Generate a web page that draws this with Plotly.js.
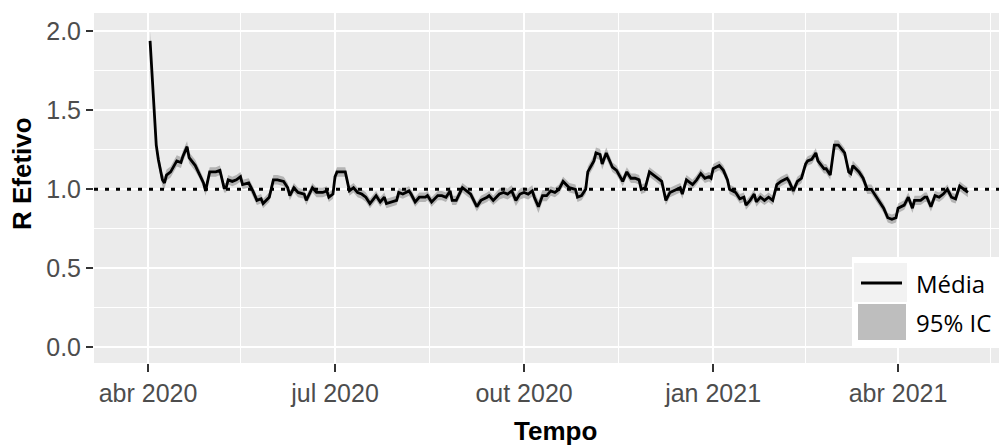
<!DOCTYPE html>
<html>
<head>
<meta charset="utf-8">
<script src="https://cdn.plot.ly/plotly-3.0.1.min.js"></script>
<style>
  html, body { margin: 0; padding: 0; background: #ffffff; }
  #chart { width: 999px; height: 446px; }
</style>
</head>
<body>
<div id="chart"></div>
<script>
// Effective reproduction number (R) over time: mean estimate and 95% interval.
const dates = [
  '2020-04-02','2020-04-03','2020-04-04','2020-04-05','2020-04-06','2020-04-07','2020-04-08','2020-04-09','2020-04-10','2020-04-12','2020-04-15','2020-04-17','2020-04-18','2020-04-20','2020-04-21','2020-04-24','2020-04-26','2020-04-28','2020-04-29',
  '2020-05-01','2020-05-04','2020-05-06','2020-05-08','2020-05-09','2020-05-10','2020-05-12','2020-05-14','2020-05-16','2020-05-17','2020-05-20','2020-05-22','2020-05-24','2020-05-26','2020-05-27','2020-05-30',
  '2020-06-01','2020-06-03','2020-06-06','2020-06-08','2020-06-09','2020-06-11','2020-06-13','2020-06-16','2020-06-17','2020-06-20','2020-06-22','2020-06-25','2020-06-27','2020-06-28','2020-06-30',
  '2020-07-01','2020-07-02','2020-07-06','2020-07-08','2020-07-10','2020-07-12','2020-07-14','2020-07-16','2020-07-18','2020-07-21','2020-07-23','2020-07-25','2020-07-26','2020-07-29','2020-07-31',
  '2020-08-01','2020-08-03','2020-08-06','2020-08-07','2020-08-09','2020-08-11','2020-08-14','2020-08-15','2020-08-17','2020-08-20','2020-08-22','2020-08-24','2020-08-26','2020-08-27','2020-08-29',
  '2020-09-01','2020-09-03','2020-09-05','2020-09-08','2020-09-10','2020-09-13','2020-09-14','2020-09-16','2020-09-19','2020-09-21','2020-09-23','2020-09-25','2020-09-27','2020-09-29',
  '2020-10-01','2020-10-03','2020-10-05','2020-10-06','2020-10-08','2020-10-10','2020-10-12','2020-10-14','2020-10-16','2020-10-18','2020-10-20','2020-10-23','2020-10-26','2020-10-27','2020-10-29','2020-10-31',
  '2020-11-01','2020-11-04','2020-11-05','2020-11-07','2020-11-08','2020-11-10','2020-11-12','2020-11-13','2020-11-15','2020-11-18','2020-11-20','2020-11-22','2020-11-24','2020-11-26','2020-11-27','2020-11-29',
  '2020-12-01','2020-12-03','2020-12-05','2020-12-07','2020-12-08','2020-12-09','2020-12-11','2020-12-13','2020-12-16','2020-12-17','2020-12-19','2020-12-22','2020-12-24','2020-12-26','2020-12-28','2020-12-30','2020-12-31',
  '2021-01-01','2021-01-04','2021-01-06','2021-01-08','2021-01-09','2021-01-12','2021-01-14','2021-01-16','2021-01-17','2021-01-19','2021-01-21','2021-01-22','2021-01-24','2021-01-26','2021-01-28','2021-01-30',
  '2021-02-01','2021-02-03','2021-02-06','2021-02-07','2021-02-09','2021-02-11','2021-02-13','2021-02-15','2021-02-16','2021-02-18','2021-02-20','2021-02-21','2021-02-24','2021-02-25','2021-02-27','2021-02-28',
  '2021-03-01','2021-03-03','2021-03-05','2021-03-06','2021-03-08','2021-03-09','2021-03-10','2021-03-13','2021-03-15','2021-03-17','2021-03-19','2021-03-21','2021-03-23','2021-03-25','2021-03-27','2021-03-29','2021-03-31',
  '2021-04-01','2021-04-04','2021-04-06','2021-04-08','2021-04-09','2021-04-12','2021-04-14','2021-04-15','2021-04-17','2021-04-19','2021-04-21','2021-04-23','2021-04-25','2021-04-27','2021-04-29',
  '2021-05-01','2021-05-03','2021-05-05'
];

const rMean = [
  1.94,1.70,1.45,1.28,1.19,1.13,1.06,1.04,1.09,1.11,1.18,1.17,1.21,1.27,1.20,1.15,1.10,1.04,0.99,
  1.11,1.11,1.12,1.01,1.01,1.06,1.05,1.06,1.08,1.03,1.04,0.99,0.93,0.94,0.91,0.95,
  1.06,1.06,1.05,1.01,0.96,1.01,0.98,0.97,0.93,1.01,0.98,0.98,0.99,0.95,0.97,
  1.08,1.11,1.11,0.99,1.01,0.98,0.97,0.95,0.91,0.96,0.92,0.95,0.91,0.92,0.93,
  0.98,0.97,0.99,0.97,0.92,0.95,0.95,0.96,0.92,0.96,0.96,0.95,0.99,0.93,0.93,
  1.01,0.99,0.97,0.89,0.93,0.95,0.96,0.93,0.97,0.98,0.97,0.99,0.93,0.97,
  0.98,0.97,0.99,0.95,0.89,0.96,0.96,0.99,0.98,1.00,1.05,1.01,1.00,0.95,0.96,1.00,
  1.11,1.18,1.23,1.22,1.16,1.23,1.17,1.14,1.12,1.05,1.11,1.07,1.07,1.06,1.00,1.01,
  1.11,1.09,1.07,1.05,0.99,0.93,0.98,0.99,1.01,0.97,1.06,1.03,1.06,1.10,1.07,1.08,1.07,
  1.13,1.15,1.12,1.06,1.00,0.98,0.94,0.95,0.90,0.93,0.97,0.92,0.95,0.93,0.95,0.93,
  1.03,1.05,1.07,1.05,0.99,1.05,1.07,1.16,1.18,1.19,1.23,1.18,1.13,1.13,1.09,1.19,
  1.28,1.28,1.25,1.23,1.11,1.10,1.15,1.11,1.07,1.00,1.00,0.96,0.92,0.88,0.82,0.81,0.82,
  0.88,0.90,0.95,0.88,0.93,0.93,0.95,0.95,0.89,0.96,0.95,0.97,1.00,0.95,0.94,
  1.02,1.00,0.98
];

// Half-width of the 95% interval at each date.
const ciHalf = [
  0.06,0.05,0.05,0.04,0.04,0.04,0.04,0.04,0.035,0.035,0.035,0.035,0.035,0.035,0.035,0.035,0.03,0.03,0.03,
  0.03,0.03,0.03,0.03,0.03,0.03,0.03,0.03,0.03,0.03,0.03,0.03,0.03,0.03,0.03,0.03,
  0.03,0.03,0.03,0.03,0.03,0.03,0.03,0.03,0.03,0.03,0.03,0.03,0.03,0.03,0.03,
  0.03,0.03,0.03,0.03,0.03,0.03,0.03,0.03,0.03,0.03,0.03,0.03,0.03,0.03,0.03,
  0.03,0.03,0.03,0.03,0.03,0.03,0.03,0.03,0.03,0.03,0.03,0.03,0.03,0.03,0.03,
  0.03,0.03,0.03,0.03,0.03,0.03,0.03,0.03,0.035,0.035,0.035,0.035,0.035,0.035,
  0.035,0.035,0.035,0.035,0.04,0.035,0.035,0.03,0.03,0.03,0.03,0.03,0.03,0.03,0.03,0.03,
  0.035,0.035,0.035,0.035,0.035,0.035,0.035,0.03,0.03,0.03,0.03,0.03,0.03,0.03,0.03,0.03,
  0.03,0.03,0.03,0.03,0.03,0.03,0.03,0.03,0.03,0.03,0.03,0.03,0.03,0.03,0.03,0.03,0.03,
  0.03,0.03,0.03,0.03,0.03,0.03,0.03,0.03,0.03,0.03,0.03,0.03,0.03,0.03,0.03,0.03,
  0.03,0.03,0.03,0.03,0.03,0.03,0.03,0.03,0.03,0.03,0.03,0.03,0.03,0.03,0.03,0.03,
  0.03,0.03,0.03,0.03,0.03,0.03,0.03,0.03,0.03,0.03,0.03,0.03,0.03,0.03,0.03,0.03,0.03,
  0.03,0.03,0.03,0.03,0.03,0.03,0.03,0.03,0.03,0.03,0.03,0.03,0.03,0.03,0.03,
  0.03,0.03,0.03
];

const refLevel = 1.0;

const xTickVals  = ['2020-04-01','2020-07-01','2020-10-01','2021-01-01','2021-04-01'];
const xTickText  = ['abr 2020','jul 2020','out 2020','jan 2021','abr 2021'];
const xMinorVals = ['2020-05-16','2020-08-16','2020-11-16','2021-02-15','2021-05-16'];
const yTickVals  = [0, 0.5, 1, 1.5, 2];
const yTickText  = ['0.0','0.5','1.0','1.5','2.0'];
const yMinorVals = [0.25, 0.75, 1.25, 1.75];

const legendLabels = ['Média', '95% IC'];

const ciLower = rMean.map((v, i) => v - ciHalf[i]);
const ciUpper = rMean.map((v, i) => v + ciHalf[i]);

// Plot area in pixels (used to place legend and titles)
const W = 999, H = 446;
const M = {l: 94, r: 0, t: 13, b: 83};
const PW = W - M.l - M.r, PH = H - M.t - M.b;
const px = x => (x - M.l) / PW;
const py = y => (H - M.b - y) / PH;

const traces = [
  { x: dates, y: ciLower, type: 'scatter', mode: 'lines',
    line: {width: 0, color: 'rgba(0,0,0,0)'}, hoverinfo: 'skip', showlegend: false },
  { x: dates, y: ciUpper, type: 'scatter', mode: 'lines', fill: 'tonexty',
    fillcolor: 'rgba(125,125,125,0.5)', line: {width: 0, color: 'rgba(0,0,0,0)'},
    name: legendLabels[1], showlegend: false },
  { x: dates, y: rMean, type: 'scatter', mode: 'lines',
    line: {color: '#000000', width: 2.8}, name: legendLabels[0], showlegend: false }
];

const tickFont = {family: 'Liberation Sans, Arial, sans-serif', size: 25, color: '#4d4d4d'};
const titleFont = {family: 'Liberation Sans, Arial, sans-serif', size: 26, color: '#000000'};
const legendFont = {family: 'Open Sans, sans-serif', size: 24, color: '#000000'};

const layout = {
  width: W, height: H,
  margin: M,
  paper_bgcolor: '#ffffff',
  plot_bgcolor: '#ebebeb',
  showlegend: false,
  xaxis: {
    type: 'date',
    range: ['2020-03-05 17:00', '2021-05-20 03:00'],
    tickmode: 'array', tickvals: xTickVals, ticktext: xTickText,
    ticks: 'outside', ticklen: 8, tickwidth: 2, tickcolor: '#333333',
    tickfont: tickFont,
    showgrid: true, gridcolor: '#ffffff', gridwidth: 2.3,
    minor: {tickmode: 'array', tickvals: xMinorVals, showgrid: true, gridcolor: '#ffffff', gridwidth: 1.1, ticks: ''},
    zeroline: false, showline: false, fixedrange: true
  },
  yaxis: {
    range: [-0.0994, 2.116],
    tickmode: 'array', tickvals: yTickVals, ticktext: yTickText,
    ticks: 'outside', ticklen: 7, tickwidth: 2, tickcolor: '#333333',
    tickfont: tickFont,
    showgrid: true, gridcolor: '#ffffff', gridwidth: 2.3,
    minor: {tickmode: 'array', tickvals: yMinorVals, showgrid: true, gridcolor: '#ffffff', gridwidth: 1.1, ticks: ''},
    zeroline: false, showline: false, fixedrange: true
  },
  shapes: [
    // reference line at R = 1 (dotted), drawn over the grid
    { type: 'line', xref: 'paper', yref: 'y', x0: 0, x1: 1, y0: refLevel, y1: refLevel,
      line: {color: '#000000', width: 3, dash: '4px,7px'}, layer: 'above' },
    // legend box and keys
    { type: 'rect', xref: 'paper', yref: 'paper', x0: px(852), x1: px(1005), y0: py(347), y1: py(257),
      fillcolor: '#ffffff', line: {width: 0}, layer: 'above' },
    { type: 'rect', xref: 'paper', yref: 'paper', x0: px(854), x1: px(907), y0: py(302), y1: py(263),
      fillcolor: '#f2f2f2', line: {width: 0}, layer: 'above' },
    { type: 'line', xref: 'paper', yref: 'paper', x0: px(861), x1: px(902), y0: py(283), y1: py(283),
      line: {color: '#000000', width: 2.8}, layer: 'above' },
    { type: 'rect', xref: 'paper', yref: 'paper', x0: px(858), x1: px(906), y0: py(340), y1: py(304),
      fillcolor: '#bebebe', line: {width: 0}, layer: 'above' }
  ],
  annotations: [
    { text: '<b>R Efetivo</b>', xref: 'paper', yref: 'paper', x: px(22), y: py(174),
      xanchor: 'center', yanchor: 'middle', textangle: -90, showarrow: false, font: titleFont },
    { text: '<b>Tempo</b>', xref: 'paper', yref: 'paper', x: px(555), y: py(431),
      xanchor: 'center', yanchor: 'middle', showarrow: false, font: titleFont },
    { text: legendLabels[0], xref: 'paper', yref: 'paper', x: px(914), y: py(283),
      xanchor: 'left', yanchor: 'middle', showarrow: false, font: legendFont },
    { text: legendLabels[1], xref: 'paper', yref: 'paper', x: px(914), y: py(322),
      xanchor: 'left', yanchor: 'middle', showarrow: false, font: legendFont }
  ]
};

Plotly.newPlot('chart', traces, layout, {displayModeBar: false, staticPlot: true});
</script>
</body>
</html>
